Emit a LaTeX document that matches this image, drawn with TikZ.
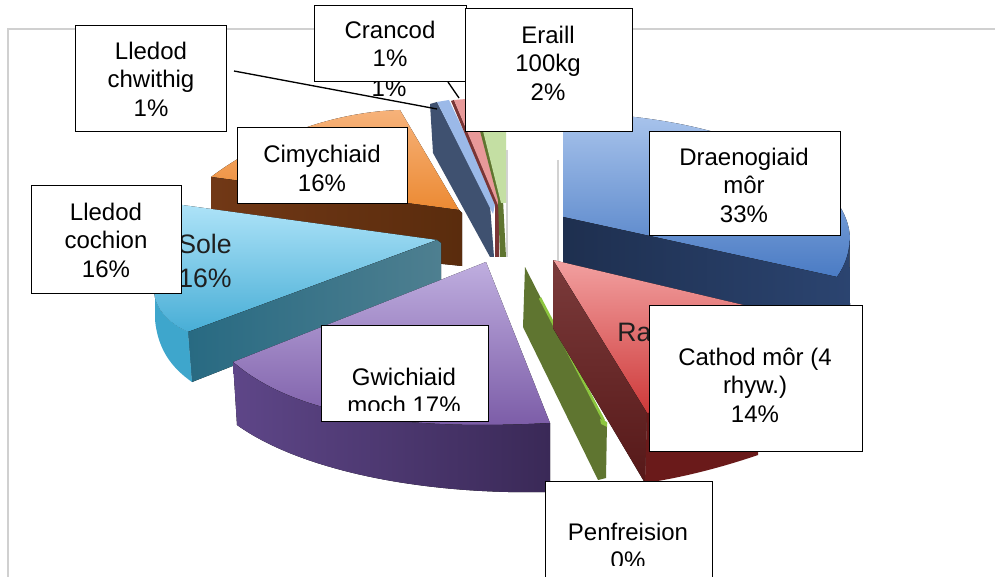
\documentclass[tikz,border=0pt]{standalone}
\usepackage{fontspec}
\setmainfont{Liberation Sans}
\newcommand\lbl{\fontsize{18}{21.4}\selectfont}
\newcommand\pielbl{\fontsize{20}{25.5}\selectfont}
\definecolor{blueA}{HTML}{A9C4EC}
\definecolor{blueB}{HTML}{4A7BC4}
\definecolor{navyA}{HTML}{1E2F4F}
\definecolor{navyB}{HTML}{2B4470}
\definecolor{redA}{HTML}{F2A0A0}
\definecolor{redB}{HTML}{CC3535}
\definecolor{maroonA}{HTML}{7B3B3B}
\definecolor{maroonB}{HTML}{561818}
\definecolor{darkred}{HTML}{6A1A1A}
\definecolor{olive}{HTML}{5F7530}
\definecolor{lime}{HTML}{8DC63F}
\definecolor{purA}{HTML}{BFAEDF}
\definecolor{purB}{HTML}{7A5AA6}
\definecolor{purSA}{HTML}{5E4688}
\definecolor{purSB}{HTML}{3A2957}
\definecolor{cyA}{HTML}{AEE3F8}
\definecolor{cyB}{HTML}{48AED6}
\definecolor{tealA}{HTML}{286A82}
\definecolor{tealB}{HTML}{4E7F90}
\definecolor{cySide}{HTML}{3EA6CC}
\definecolor{orA}{HTML}{F6B27A}
\definecolor{orB}{HTML}{EC8A33}
\definecolor{brownA}{HTML}{713816}
\definecolor{brownB}{HTML}{5A2C0D}
\definecolor{slate}{HTML}{3F5170}
\definecolor{ltblue}{HTML}{9BB9E8}
\definecolor{pinkc}{HTML}{E89999}
\definecolor{dkpink}{HTML}{7A3535}
\definecolor{ltgreen}{HTML}{C4DFA3}
\definecolor{framec}{HTML}{D0D0D0}
\definecolor{shadowc}{HTML}{D2D2D2}
\tikzset{
  lbox/.style={draw=black, line width=1.1pt, fill=white, inner sep=0pt, anchor=north west},
  ltxt/.style={font=\lbl, align=center, inner sep=0pt, text=black},
  ptxt/.style={font=\pielbl, align=center, inner sep=0pt, text=black!88},
  leader/.style={draw=black, line width=1pt},
  shadowline/.style={draw=shadowc, line width=1.5pt}
}
\begin{document}
\begin{tikzpicture}[x=0.75pt,y=-0.75pt]
\useasboundingbox (0,0) rectangle (995,577);
\clip (0,0) rectangle (995,577);
\fill[white] (0,0) rectangle (995,577);
% frame
\draw[framec, line width=0.8pt] (8,577) -- (8,29) -- (995,29);

% shadows
\draw[shadowline] (507,150) -- (507,257);
\draw[shadowline] (558,160) -- (558,300);

% small slices (back)
\fill[slate] (430,104) -- (437,102) -- (490,205) -- (494,257) -- (490,257) -- (433,153) -- cycle;
\fill[ltblue] (437,102) -- (449,100) -- (496,200) -- (493,214) -- cycle;
\fill[dkpink] (451,101) -- (454,100) -- (499,205) -- (499,257) -- (495,257) -- (495,205) -- cycle;
\fill[pinkc] (454,100) -- (466,99) -- (482,131) -- (500,200) -- (498,205) -- cycle;
\fill[olive] (480,131) -- (484,131) -- (503,200) -- (506,257) -- (500,257) -- (498,200) -- cycle;
\fill[ltgreen] (483,131) -- (506,131) -- (506,203) -- (501,203) -- cycle;

% orange slice
\fill[top color=orA, bottom color=orB] (459,210) -- (400,110) .. controls (330,112) and (260,140) .. (211,177) -- cycle;
\fill[left color=brownA, right color=brownB] (211,177) -- (459,210) -- (462,213) -- (462,266) -- (211,240) -- cycle;

% blue slice
\fill[top color=blueA, bottom color=blueB] (563,217) -- (563,113) arc[start angle=-90, end angle=17, x radius=287, y radius=127] -- cycle;
\fill[left color=navyA, right color=navyB] (563,217) -- (837,277) arc[start angle=17, end angle=0, x radius=287, y radius=127] -- (850,305) -- (838,350) -- (563,292) -- cycle;

% cyan slice
\fill[top color=cyA, bottom color=cyB] (175,204) -- (437,240) -- (188,332) .. controls (172,325) and (158,312) .. (155,298) .. controls (150,270) and (155,235) .. (175,204) -- cycle;
\fill[left color=tealA, right color=tealB] (188,332) -- (437,240) -- (441,243) -- (441,284) -- (192,382) -- cycle;
\fill[cySide] (155,298) .. controls (158,312) and (172,325) .. (188,332) -- (192,382) .. controls (172,368) and (158,350) .. (155,320) -- cycle;

% purple slice
\fill[top color=purA, bottom color=purB] (486,262) -- (550,423) .. controls (420,430) and (300,420) .. (233,362) -- cycle;
\fill[left color=purSA, right color=purSB] (233,362) .. controls (300,420) and (420,430) .. (550,423) -- (550,492) .. controls (420,495) and (300,470) .. (237,425) -- cycle;

% green sliver
\fill[olive] (525,267) -- (603,420) -- (607,423) -- (606,478) -- (598,480) -- (523,327) -- cycle;
\draw[lime, line width=2pt] (540,298) -- (604,421);
\fill[lime] (600,419) -- (607,422) -- (607,427) -- (601,424) -- cycle;

% red slice
\fill[top color=redA, bottom color=redB] (553,260) -- (752,307) -- (754,420) -- (647,413) -- cycle;
\fill[top color=maroonA, bottom color=maroonB] (553,260) -- (647,413) -- (645,483) -- (553,328) -- cycle;
\fill[darkred] (647,413) -- (758,395) -- (758,455) .. controls (720,468) and (680,478) .. (645,483) -- cycle;

% in-pie labels (partly hidden)
\node[ptxt] (sole) at (205,261) {Sole\\16\%};
\node[ptxt, anchor=west] (ra) at (617,332) {Ra};
\node[ltxt] (hid) at (389,88) {1\%};

% leader lines
\coordinate (l1a) at (234,71);
\coordinate (l1b) at (437,109);
\coordinate (l2a) at (448,82);
\coordinate (l2b) at (459,98);
\draw[leader] (l1a) -- (l1b);
\draw[leader] (l2a) -- (l2b);

% label boxes
\node[lbox, minimum width=113.25pt, minimum height=79.5pt] (llcb) at (75,25) {};
\node[ltxt] (llc) at (151,79) {Lledod\\chwithig\\1\%};

\node[lbox, minimum width=114pt, minimum height=57pt] (cranb) at (314,5) {};
\node[ltxt] (cran) at (390,44) {Crancod\\1\%};

\node[lbox, minimum width=125.25pt, minimum height=92.25pt] (eraib) at (465,8) {};
\node[ltxt] (erai) at (548,63) {Eraill\\100kg\\2\%};

\node[lbox, minimum width=127.5pt, minimum height=57pt] (cimyb) at (237,127) {};
\node[ltxt] (cimy) at (322,168.5) {Cimychiaid\\16\%};

\node[lbox, minimum width=112.5pt, minimum height=81pt] (lcocb) at (31,185) {};
\node[ltxt] (lcoc) at (106,240) {Lledod\\cochion\\16\%};

\node[lbox, minimum width=143.25pt, minimum height=78pt] (draeb) at (649,131) {};
\node[ltxt] (drae) at (744,185) {Draenogiaid\\môr\\33\%};

\node[lbox, minimum width=125.25pt, minimum height=72pt] (gwicb) at (321,325) {};
\begin{scope}
\clip (322,326) rectangle (487,410);
\node[ltxt] (gwic) at (404,391) {Gwichiaid\\moch 17\%};
\end{scope}

\node[lbox, minimum width=159.75pt, minimum height=109.5pt] (cathb) at (649,305) {};
\node[ltxt] (cath) at (755,385) {Cathod môr (4\\rhyw.)\\14\%};

\node[lbox, minimum width=125.25pt, minimum height=100pt] (penfb) at (545,481) {};
\begin{scope}
\clip (546,482) rectangle (711,565);
\node[ltxt] (penf) at (628,546) {Penfreision\\0\%};
\end{scope}
\end{tikzpicture}
\end{document}
